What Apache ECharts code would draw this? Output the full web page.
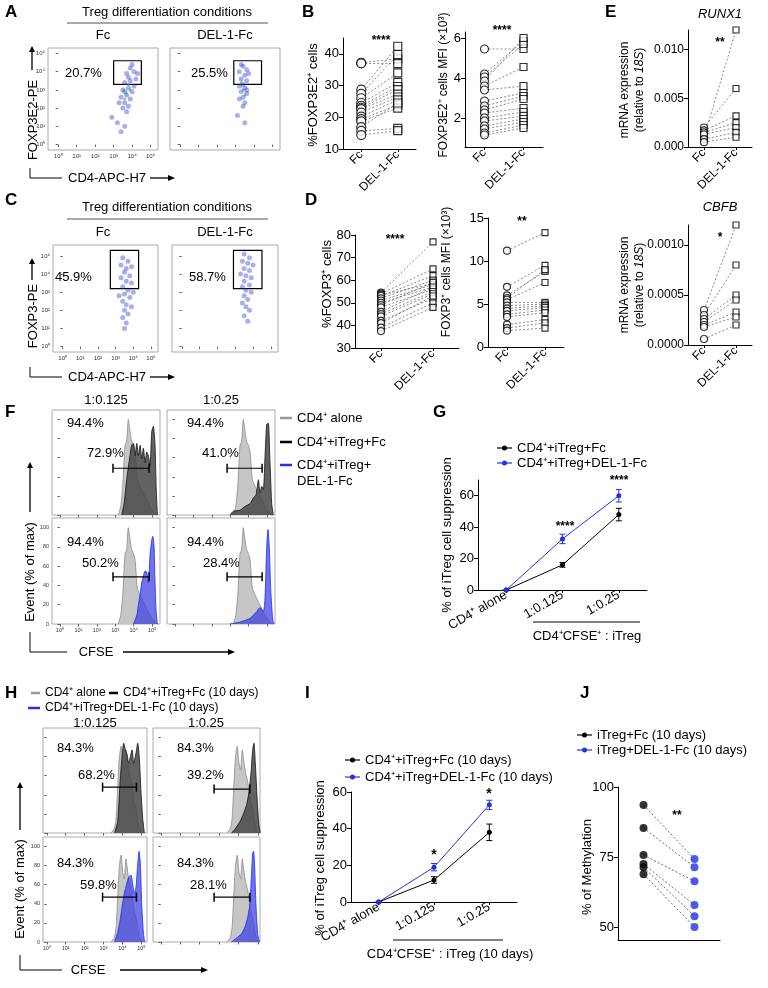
<!DOCTYPE html>
<html>
<head>
<meta charset="utf-8">
<script src="https://cdn.jsdelivr.net/npm/echarts@6/dist/echarts.min.js"></script>
<style>
  html, body { margin: 0; padding: 0; background: #fff; }
  #chart { width: 768px; height: 988px; }
</style>
</head>
<body>
<div id="chart"></div>
<script>
// ---------- data ----------
const FLOW_TICKS = [0, 1, 2, 3, 4, 5];
const flowTickLabels = ['10⁰', '10¹', '10²', '10³', '10⁴', '10⁵'];
const HIST_Y_TICKS = [0, 20, 40, 60, 80, 100];

// A / C dot plots, values in log10 units
const aFcCloud = [[3.9,4.2],[4.1,4.0],[3.7,3.9],[4.2,3.6],[3.9,3.5],[3.6,3.4],[4.1,3.2],[3.8,3.1],[3.5,3.0],[4.0,2.9],
  [3.7,2.7],[3.4,2.6],[3.9,2.5],[3.6,2.3],[3.8,2.1],[3.5,2.0],[3.7,1.8],[3.3,2.3],[4.3,3.9],[4.0,4.4],[3.6,2.9],[3.8,3.7],
  [3.2,1.2],[3.6,1.0],[2.9,1.5],[3.4,0.7]];
const aFcCore = [[3.8,3.3],[3.7,2.8],[3.9,3.0],[3.6,2.5]];
const aDelCloud = [[3.4,4.3],[3.6,4.1],[3.2,4.0],[3.5,3.8],[3.3,3.6],[3.6,3.5],[3.4,3.3],[3.2,3.2],[3.5,3.1],[3.3,2.9],
  [3.6,2.8],[3.4,2.6],[3.2,2.5],[3.5,2.3],[3.3,4.4],[3.7,3.9],[3.4,2.1],[3.6,3.0],[3.1,1.6],[3.5,1.2]];
const aDelCore = [[3.4,3.0],[3.5,2.7],[3.3,3.4]];
const aFcGate = [[3.0, 4.6], [4.5, 3.3]];
const aDelGate = [[2.9, 4.6], [4.4, 3.3]];
const cFcCloud = [[3.4,4.9],[3.7,4.7],[3.3,4.5],[3.6,4.3],[3.9,4.4],[3.5,4.1],[3.8,3.9],[3.3,3.8],[3.6,3.6],[3.9,3.5],
  [3.4,3.3],[3.7,3.1],[3.5,2.9],[3.8,2.7],[3.4,2.5],[3.6,2.3],[3.9,2.2],[3.5,2.0],[3.7,1.8],[3.4,1.6],[3.6,1.3],[3.5,1.0],[4.0,3.0],[3.2,2.8]];
const cDelCloud = [[3.5,5.1],[3.8,4.9],[3.4,4.7],[3.7,4.6],[4.0,4.5],[3.5,4.3],[3.8,4.2],[3.3,4.0],[3.6,3.9],[3.9,3.8],
  [3.5,3.6],[3.8,3.4],[3.4,3.3],[3.6,3.1],[3.9,3.0],[3.5,2.8],[3.7,2.6],[3.4,2.4],[3.6,2.2],[3.8,2.0],[3.5,1.7],[3.7,1.4]];
const cFcGate = [[2.7, 5.3], [4.3, 3.2]];
const cDelGate = [[2.9, 5.3], [4.5, 3.2]];

// B, D, E paired plots
const pairCats = ['Fc', 'DEL-1-Fc'];
const bPctFc  = [37.2, 37.0, 28.7, 27.4, 26.0, 24.5, 23.6, 23.0, 22.6, 21.5, 20.2, 19.4, 18.7, 16.9, 15.7, 14.4];
const bPctDel = [38.4, 36.9, 42.4, 39.8, 34.0, 31.0, 29.7, 28.7, 27.3, 26.4, 25.5, 23.9, 22.9, 24.5, 16.5, 15.8];
const bMfiFc  = [5.45, 4.2, 4.05, 3.85, 3.6, 3.4, 2.85, 2.6, 2.4, 2.25, 2.0, 1.85, 1.6, 1.45, 1.25, 1.15];
const bMfiDel = [5.45, 5.85, 5.7, 6.0, 4.55, 3.6, 3.25, 3.1, 2.95, 2.5, 2.3, 2.1, 1.95, 1.8, 1.65, 1.5];
const dPctFc  = [54.5, 54, 53.5, 53, 52, 51, 50, 49, 48, 46, 45, 44, 42, 41, 39, 37.5];
const dPctDel = [77, 65, 58.5, 62, 60, 58, 57, 59, 56, 57, 55, 54, 52, 53, 50, 48];
const dMfiFc  = [11.2, 7.0, 6.0, 5.7, 5.5, 5.2, 4.8, 4.5, 4.2, 3.8, 3.5, 2.6, 2.2, 1.9];
const dMfiDel = [13.3, 9.5, 8.8, 9.0, 7.5, 5.2, 5.0, 4.8, 4.6, 4.3, 4.0, 3.2, 2.8, 2.2];
const runx1Fc  = [0.0010, 0.0020, 0.0017, 0.0015, 0.0013, 0.0008, 0.0005];
const runx1Del = [0.0120, 0.0060, 0.0032, 0.0025, 0.0020, 0.0015, 0.0010];
const cbfbFc   = [0.00035, 0.00030, 0.00026, 0.00023, 0.00020, 0.00018, 0.00006];
const cbfbDel  = [0.00120, 0.00080, 0.00050, 0.00045, 0.00033, 0.00028, 0.00020];

// F / H histograms: [log10 CFSE, % of max]
const fAlone   = [[3.17,0],[3.3,9],[3.41,30],[3.53,73],[3.62,77],[3.71,100],[3.8,88],[3.89,77],[3.99,73],[4.08,66],[4.2,37],[4.35,30],[4.53,23],[4.71,16],[4.89,9],[5.07,4],[5.25,0]];
const fFc0125  = [[3.35,0],[3.48,12],[3.62,37],[3.8,62],[3.89,73],[3.99,75],[4.08,62],[4.17,75],[4.26,62],[4.35,73],[4.44,59],[4.53,70],[4.62,55],[4.71,66],[4.8,62],[4.89,52],[4.98,87],[5.07,93],[5.16,73],[5.22,30],[5.29,0]];
const fFc025   = [[2.99,0],[3.17,4],[3.53,5],[3.8,9],[4.08,12],[4.26,18],[4.4,21],[4.53,37],[4.62,23],[4.71,30],[4.8,27],[4.89,62],[4.98,95],[5.07,96],[5.16,55],[5.25,12],[5.34,0]];
const fDel0125 = [[3.99,0],[4.17,9],[4.26,20],[4.35,31],[4.44,43],[4.53,50],[4.62,55],[4.71,54],[4.8,43],[4.89,72],[4.98,87],[5.04,91],[5.11,80],[5.16,43],[5.22,13],[5.29,0]];
const fDel025  = [[2.99,0],[3.53,2],[4.08,6],[4.44,13],[4.62,17],[4.8,13],[4.89,28],[4.98,80],[5.05,98],[5.12,80],[5.2,35],[5.31,4],[5.38,0]];
const hAlone   = [[3.4,0],[3.58,5],[3.67,16],[3.75,48],[3.84,80],[3.93,91],[4.02,73],[4.1,66],[4.19,87],[4.28,73],[4.37,62],[4.46,55],[4.54,44],[4.63,32],[4.72,25],[4.81,14],[4.9,5],[5.0,0]];
const hFc0125  = [[3.58,0],[3.75,12],[3.88,55],[3.98,80],[4.07,94],[4.16,87],[4.25,82],[4.33,73],[4.42,80],[4.51,87],[4.6,73],[4.72,84],[4.81,94],[4.89,80],[4.98,44],[5.07,16],[5.16,0]];
const hFc025   = [[3.63,0],[3.81,4],[4.07,12],[4.25,20],[4.42,30],[4.54,44],[4.65,66],[4.72,87],[4.79,94],[4.86,73],[4.95,37],[5.04,9],[5.12,0]];
const hDel0125 = [[3.58,0],[3.75,10],[3.88,23],[3.98,37],[4.1,51],[4.23,61],[4.33,68],[4.46,70],[4.54,61],[4.63,51],[4.72,58],[4.81,82],[4.88,95],[4.95,82],[5.02,40],[5.11,9],[5.18,0]];
const hDel025  = [[3.63,0],[3.89,4],[4.16,9],[4.33,16],[4.47,26],[4.58,40],[4.65,65],[4.72,93],[4.77,95],[4.82,82],[4.89,40],[4.98,9],[5.07,0]];
// divided-cell gates: [from, to, height]
const fBar0125 = [2.88, 4.84, 49];
const fBar025  = [2.83, 4.73, 49];
const hBar0125 = [2.95, 4.74, 48];
const hBar025  = [2.74, 4.58, 46];

// G / I suppression
const suppCats = ['CD4⁺ alone', '1:0.125', '1:0.25'];
const gFc = [0, 16, 48],   gFcErr = [0, 1.5, 4];
const gDel = [0, 32.5, 60], gDelErr = [0, 3, 4];
const iFc = [0, 12, 38],   iFcErr = [0, 1.8, 4.5];
const iDel = [0, 19, 53],  iDelErr = [0, 2, 2.5];

// J methylation
const jFc  = [93.6, 85.4, 75.7, 72.5, 71.4, 68.9];
const jDel = [74.3, 71.4, 66.4, 57.9, 53.9, 50.0];

// ---------- building ----------
const FONT = '"Liberation Sans", Arial, Helvetica, sans-serif';
const BLUE = '#2233dd';
const grids = [], xAxes = [], yAxes = [], series = [], graphic = [];

function addGrid(rect, xAxis, yAxis) {
  const i = grids.length;
  grids.push(Object.assign({ containLabel: false }, rect));
  xAxes.push(Object.assign({ gridIndex: i }, xAxis));
  yAxes.push(Object.assign({ gridIndex: i }, yAxis));
  return i;
}

function text(x, y, str, o) {
  o = o || {};
  graphic.push({
    type: 'text', x: x, y: y, silent: true, rotation: o.rotate || 0,
    style: Object.assign({
      text: str, fill: '#000',
      font: (o.italic ? 'italic ' : '') + (o.weight || 'normal') + ' ' + (o.size || 13) + 'px ' + FONT,
      align: o.align || 'center', textAlign: o.align || 'center',
      verticalAlign: 'middle', textVerticalAlign: 'middle'
    }, o.style || {})
  });
}
function vtext(x, y, str, o) { text(x, y, str, Object.assign({ rotate: Math.PI / 2 }, o || {})); }
function line(x1, y1, x2, y2, color, w) {
  graphic.push({ type: 'line', silent: true, shape: { x1, y1, x2, y2 }, style: { stroke: color || '#000', lineWidth: w || 1 } });
}
function arrowUp(x, yTop, yBot) {
  line(x, yTop + 4, x, yBot, '#000', 1.3);
  graphic.push({ type: 'polygon', silent: true, shape: { points: [[x, yTop], [x - 3, yTop + 6], [x + 3, yTop + 6]] }, style: { fill: '#000' } });
}
function arrowRight(x1, x2, y) {
  line(x1, y, x2 - 4, y, '#000', 1.3);
  graphic.push({ type: 'polygon', silent: true, shape: { points: [[x2, y], [x2 - 7, y - 3], [x2 - 7, y + 3]] }, style: { fill: '#000' } });
}
function letter(x, y, s) { text(x, y, s, { align: 'left', size: 17, weight: 'bold' }); }

function valueAxis(min, max, ticks, fmt, size) {
  return {
    type: 'value', min: min, max: max, splitLine: { show: false },
    axisLine: { show: true, lineStyle: { color: '#000', width: 1 } },
    axisTick: { show: true, length: 4, customValues: ticks, lineStyle: { color: '#000' } },
    axisLabel: { customValues: ticks, formatter: fmt || (v => String(v)), fontSize: size || 13, color: '#000', fontFamily: FONT, margin: 4 }
  };
}
function catAxis(cats, rotate, size) {
  return {
    type: 'category', data: cats, boundaryGap: true,
    axisLine: { lineStyle: { color: '#000' } },
    axisTick: { show: true, alignWithLabel: true, length: 3, lineStyle: { color: '#000' } },
    axisLabel: { rotate: rotate, interval: 0, fontSize: size || 12, color: '#000', fontFamily: FONT, margin: 4 }
  };
}

function flowBox(rect, xr, yr, cloud, core, gate, labels) {
  const lab = { show: labels, customValues: FLOW_TICKS, formatter: v => flowTickLabels[v], fontSize: 6, color: '#333', margin: 3 };
  const tick = { show: true, length: 2.5, customValues: FLOW_TICKS, lineStyle: { color: '#666' } };
  const gi = addGrid(Object.assign({ show: true, borderColor: '#aaa', borderWidth: 1 }, rect),
    { type: 'value', min: xr[0], max: xr[1], splitLine: { show: false }, axisLine: { show: false }, axisTick: tick, axisLabel: lab },
    { type: 'value', min: yr[0], max: yr[1], splitLine: { show: false }, axisLine: { show: false }, axisTick: tick, axisLabel: lab });
  series.push({
    type: 'scatter', xAxisIndex: gi, yAxisIndex: gi, data: cloud, symbolSize: 5, silent: true,
    itemStyle: { color: 'rgba(40,55,210,0.5)' },
    markArea: { silent: true, itemStyle: { color: 'rgba(0,0,0,0)', borderColor: '#000', borderWidth: 1.2 },
      data: [[{ coord: gate[0] }, { coord: gate[1] }]] }
  });
  if (core.length) {
    series.push({ type: 'scatter', xAxisIndex: gi, yAxisIndex: gi, data: core, symbolSize: 3, silent: true,
      itemStyle: { color: 'rgba(70,170,70,0.75)' } });
  }
}

function pairedPlot(rect, yAxis, fcVals, delVals, size) {
  const gi = addGrid(rect, catAxis(pairCats, 45, 12), yAxis);
  fcVals.forEach((v, k) => series.push({
    type: 'line', xAxisIndex: gi, yAxisIndex: gi, data: [v, delVals[k]], symbol: 'none', silent: true, z: 1,
    lineStyle: { color: '#555', width: 0.7, type: [2, 2] }
  }));
  series.push({ type: 'scatter', xAxisIndex: gi, yAxisIndex: gi, data: fcVals.map(v => [0, v]), symbol: 'circle',
    symbolSize: size, silent: true, z: 3, itemStyle: { color: '#fff', borderColor: '#000', borderWidth: 1.2 } });
  series.push({ type: 'scatter', xAxisIndex: gi, yAxisIndex: gi, data: delVals.map(v => [1, v]), symbol: 'rect',
    symbolSize: size - 1, silent: true, z: 3, itemStyle: { color: '#fff', borderColor: '#000', borderWidth: 1.2 } });
}

const GRAY = { stroke: '#8a8a8a', fill: '#c6c6c6', z: 2 };
const DARK = { stroke: '#111', fill: 'rgba(70,70,70,0.85)', z: 3 };
const BLUEH = { stroke: '#1030ff', fill: 'rgba(60,60,225,0.72)', z: 3 };

function histBox(rect, xr, labels, curves, bar) {
  const tl = (ticks, fmt) => ({ show: labels, customValues: ticks, formatter: fmt, fontSize: 5.5, color: '#333', margin: 3 });
  const tk = ticks => ({ show: true, length: 2.5, customValues: ticks, lineStyle: { color: '#666' } });
  const gi = addGrid(Object.assign({ show: true, borderColor: '#aaa', borderWidth: 1 }, rect),
    { type: 'value', min: xr[0], max: xr[1], splitLine: { show: false }, axisLine: { show: false },
      axisTick: tk(FLOW_TICKS), axisLabel: tl(FLOW_TICKS, v => flowTickLabels[v]) },
    { type: 'value', min: 0, max: 110, splitLine: { show: false }, axisLine: { show: false },
      axisTick: tk(HIST_Y_TICKS), axisLabel: tl(HIST_Y_TICKS, v => String(v)) });
  curves.forEach(c => series.push({
    type: 'line', xAxisIndex: gi, yAxisIndex: gi, data: c.data, symbol: 'none', smooth: 0.2, silent: true, z: c.style.z,
    lineStyle: { color: c.style.stroke, width: 0.8 }, areaStyle: { color: c.style.fill, opacity: 1 }
  }));
  series.push({
    type: 'line', xAxisIndex: gi, yAxisIndex: gi, data: [[bar[0], bar[2]], [bar[1], bar[2]]], silent: true, z: 10,
    symbol: 'rect', symbolSize: [1.5, 9], lineStyle: { color: '#000', width: 1.2 }, itemStyle: { color: '#000' }
  });
}

function errorBars(gi, vals, errs, color) {
  series.push({
    type: 'custom', xAxisIndex: gi, yAxisIndex: gi, silent: true, z: 4,
    data: vals.map((v, k) => [k, v - errs[k], v + errs[k]]),
    renderItem: (params, api) => {
      const lo = api.coord([api.value(0), api.value(1)]);
      const hi = api.coord([api.value(0), api.value(2)]);
      const st = { stroke: color, lineWidth: 1 };
      return { type: 'group', children: [
        { type: 'line', shape: { x1: lo[0], y1: lo[1], x2: hi[0], y2: hi[1] }, style: st },
        { type: 'line', shape: { x1: hi[0] - 3, y1: hi[1], x2: hi[0] + 3, y2: hi[1] }, style: st },
        { type: 'line', shape: { x1: lo[0] - 3, y1: lo[1], x2: lo[0] + 3, y2: lo[1] }, style: st }
      ] };
    }
  });
}

function suppressionPlot(rect, yMax, yTicks, fc, fcErr, del, delErr) {
  const gi = addGrid(rect, catAxis(suppCats, 30, 13), valueAxis(0, yMax, yTicks));
  [[fc, fcErr, '#000'], [del, delErr, BLUE]].forEach(([vals, errs, col]) => {
    series.push({ type: 'line', xAxisIndex: gi, yAxisIndex: gi, data: vals, symbol: 'circle', symbolSize: 5, silent: true, z: 5,
      lineStyle: { color: col, width: 1 }, itemStyle: { color: col } });
    errorBars(gi, vals, errs, col);
  });
}

function legendDot(x, y, col, label, size) {
  line(x, y, x + 15, y, col, 1.2);
  graphic.push({ type: 'circle', silent: true, shape: { cx: x + 7.5, cy: y, r: 2.5 }, style: { fill: col } });
  text(x + 20, y, label, { align: 'left', size: size || 13 });
}
function legendBar(x1, x2, y, col, label, size) {
  line(x1, y, x2, y, col, 2.5);
  text(x2 + 5, y, label, { align: 'left', size: size || 13 });
}

// ---------- A ----------
letter(5, 12, 'A');
text(167, 12, 'Treg differentiation conditions');
line(67, 23, 268, 23, '#555', 1.2);
text(103, 35, 'Fc'); text(225, 35, 'DEL-1-Fc');
flowBox({ left: 48, top: 48, width: 110, height: 102 }, [-0.55, 5.4], [-0.3, 5.3], aFcCloud, aFcCore, aFcGate, true);
flowBox({ left: 170, top: 48, width: 110, height: 102 }, [-0.55, 5.4], [-0.3, 5.3], aDelCloud, aDelCore, aDelGate, false);
text(65, 73, '20.7%', { align: 'left' }); text(191, 73, '25.5%', { align: 'left' });
arrowUp(32, 46, 70); vtext(33, 120, 'FOXP3E2-PE');
line(30, 168, 30, 178); line(30, 178, 62, 178);
text(107, 178, 'CD4-APC-H7'); arrowRight(150, 175, 178);

// ---------- C ----------
letter(5, 200, 'C');
text(167, 207, 'Treg differentiation conditions');
line(67, 219, 268, 219, '#555', 1.2);
text(103, 232, 'Fc'); text(225, 232, 'DEL-1-Fc');
flowBox({ left: 53, top: 245, width: 105, height: 107 }, [-0.55, 5.4], [-0.3, 5.6], cFcCloud, [], cFcGate, true);
flowBox({ left: 172, top: 245, width: 106, height: 107 }, [-0.55, 5.4], [-0.3, 5.6], cDelCloud, [], cDelGate, false);
text(55, 277, '45.9%', { align: 'left' }); text(189, 277, '58.7%', { align: 'left' });
arrowUp(32, 258, 280); vtext(33, 316, 'FOXP3-PE');
line(30, 367, 30, 377); line(30, 377, 62, 377);
text(107, 377, 'CD4-APC-H7'); arrowRight(150, 175, 377);

// ---------- B ----------
letter(302, 12, 'B');
pairedPlot({ left: 343, top: 38, width: 73, height: 111 }, valueAxis(10, 45, [10, 20, 30, 40]), bPctFc, bPctDel, 9);
vtext(313, 95, '%FOXP3E2⁺ cells');
text(381, 41, '****', { size: 12, weight: 'bold' });
pairedPlot({ left: 465, top: 32, width: 78, height: 115 }, valueAxis(0.55, 6.3, [2, 4, 6]), bMfiFc, bMfiDel, 8);
vtext(444, 85, 'FOXP3E2⁺ cells MFI (×10³)', { size: 12 });
text(502, 31, '****', { size: 12, weight: 'bold' });

// ---------- D ----------
letter(305, 200, 'D');
pairedPlot({ left: 355, top: 235, width: 104, height: 113 }, valueAxis(30, 80, [30, 40, 50, 60, 70, 80]), dPctFc, dPctDel, 7);
vtext(327, 284, '%FOXP3⁺ cells');
text(395, 240, '****', { size: 12, weight: 'bold' });
pairedPlot({ left: 488, top: 218, width: 76, height: 129 }, valueAxis(0, 15, [0, 5, 10, 15]), dMfiFc, dMfiDel, 7);
vtext(447, 272, 'FOXP3⁺ cells MFI (×10³)', { size: 12 });
text(522, 222, '**', { size: 12, weight: 'bold' });

// ---------- E ----------
letter(605, 12, 'E');
text(720, 14, 'RUNX1', { italic: true });
pairedPlot({ left: 688, top: 30, width: 64, height: 117 }, valueAxis(0, 0.012, [0, 0.005, 0.010], v => v.toFixed(3), 12), runx1Fc, runx1Del, 7);
text(720, 43, '**', { size: 12, weight: 'bold' });
const relRich = { n: { fontSize: 12, fontFamily: FONT }, i: { fontSize: 12, fontFamily: FONT, fontStyle: 'italic' } };
vtext(632, 90, '{n|mRNA expression}\n{n|(relative to }{i|18S}{n|)}', { style: { rich: relRich, lineHeight: 15 } });
text(720, 207, 'CBFB', { italic: true });
pairedPlot({ left: 688, top: 225, width: 64, height: 120 }, valueAxis(0, 0.0012, [0, 0.0005, 0.0010], v => v.toFixed(4), 12), cbfbFc, cbfbDel, 7);
text(720, 238, '*', { size: 12, weight: 'bold' });
vtext(632, 285, '{n|mRNA expression}\n{n|(relative to }{i|18S}{n|)}', { style: { rich: relRich, lineHeight: 15 } });

// ---------- F ----------
letter(5, 412, 'F');
text(106, 400, '1:0.125'); text(221, 400, '1:0.25');
const fxr = [-0.43, 5.43];
histBox({ left: 52, top: 410, width: 108, height: 105 }, fxr, false, [{ data: fAlone, style: GRAY }, { data: fFc0125, style: DARK }], fBar0125);
histBox({ left: 167, top: 410, width: 108, height: 105 }, fxr, false, [{ data: fAlone, style: GRAY }, { data: fFc025, style: DARK }], fBar025);
histBox({ left: 52, top: 518, width: 108, height: 106 }, fxr, true, [{ data: fAlone, style: GRAY }, { data: fDel0125, style: BLUEH }], fBar0125);
histBox({ left: 167, top: 518, width: 108, height: 106 }, fxr, false, [{ data: fAlone, style: GRAY }, { data: fDel025, style: BLUEH }], fBar025);
text(67, 423, '94.4%', { align: 'left' }); text(87, 453, '72.9%', { align: 'left' });
text(187, 423, '94.4%', { align: 'left' }); text(202, 453, '41.0%', { align: 'left' });
text(67, 542, '94.4%', { align: 'left' }); text(82, 563, '50.2%', { align: 'left' });
text(187, 542, '94.4%', { align: 'left' }); text(203, 563, '28.4%', { align: 'left' });
arrowUp(30, 462, 512); vtext(30, 572, 'Event (% of max)');
line(30, 632, 30, 652); line(30, 652, 67, 652);
text(96, 652, 'CFSE'); arrowRight(123, 235, 652);
legendBar(280, 292, 418, '#999', 'CD4⁺ alone');
legendBar(280, 292, 442, '#000', 'CD4⁺+iTreg+Fc');
legendBar(280, 292, 465, BLUE, 'CD4⁺+iTreg+');
text(297, 481, 'DEL-1-Fc', { align: 'left' });

// ---------- G ----------
letter(433, 412, 'G');
legendDot(497, 448, '#000', 'CD4⁺+iTreg+Fc');
legendDot(497, 463, BLUE, 'CD4⁺+iTreg+DEL-1-Fc');
suppressionPlot({ left: 478, top: 480, width: 169, height: 110 }, 70, [0, 20, 40, 60], gFc, gFcErr, gDel, gDelErr);
vtext(447, 535, '% of iTreg cell suppression');
text(565, 527, '****', { size: 12, weight: 'bold' });
text(619, 481, '****', { size: 12, weight: 'bold' });
line(533, 622, 640, 622);
text(587, 636, 'CD4⁺CFSE⁺ : iTreg');

// ---------- H ----------
letter(5, 693, 'H');
legendBar(31, 40, 693, '#999', 'CD4⁺ alone', 12);
legendBar(109, 118, 693, '#000', 'CD4⁺+iTreg+Fc (10 days)', 12);
legendBar(28, 40, 708, BLUE, 'CD4⁺+iTreg+DEL-1-Fc (10 days)', 12);
text(95, 723, '1:0.125'); text(206, 723, '1:0.25');
histBox({ left: 43, top: 728, width: 104, height: 105 }, [-0.2, 5.3], false, [{ data: hAlone, style: GRAY }, { data: hFc0125, style: DARK }], hBar0125);
histBox({ left: 153, top: 728, width: 107, height: 105 }, [-0.4, 5.1], false, [{ data: hAlone, style: GRAY }, { data: hFc025, style: DARK }], hBar025);
histBox({ left: 43, top: 837, width: 104, height: 105 }, [-0.2, 5.3], true, [{ data: hAlone, style: GRAY }, { data: hDel0125, style: BLUEH }], [hBar0125[0], hBar0125[1], 47]);
histBox({ left: 153, top: 837, width: 107, height: 105 }, [-0.4, 5.1], false, [{ data: hAlone, style: GRAY }, { data: hDel025, style: BLUEH }], [hBar025[0], hBar025[1], 47]);
text(57, 748, '84.3%', { align: 'left' }); text(78, 775, '68.2%', { align: 'left' });
text(177, 748, '84.3%', { align: 'left' }); text(187, 775, '39.2%', { align: 'left' });
text(57, 863, '84.3%', { align: 'left' }); text(80, 885, '59.8%', { align: 'left' });
text(177, 863, '84.3%', { align: 'left' }); text(190, 885, '28.1%', { align: 'left' });
arrowUp(20, 782, 830); vtext(20, 889, 'Event (% of max)');
line(20, 955, 20, 970); line(20, 970, 62, 970);
text(88, 970, 'CFSE'); arrowRight(120, 208, 970);

// ---------- I ----------
letter(305, 693, 'I');
legendDot(345, 760, '#000', 'CD4⁺+iTreg+Fc (10 days)');
legendDot(345, 777, BLUE, 'CD4⁺+iTreg+DEL-1-Fc (10 days)');
suppressionPlot({ left: 351, top: 792, width: 166, height: 110 }, 60, [0, 20, 40, 60], iFc, iFcErr, iDel, iDelErr);
vtext(320, 858, '% of iTreg cell suppression');
text(434, 855, '*', { size: 14, weight: 'bold' });
text(489, 794, '*', { size: 14, weight: 'bold' });
line(393, 940, 503, 940);
text(450, 954, 'CD4⁺CFSE⁺ : iTreg (10 days)');

// ---------- J ----------
letter(580, 693, 'J');
legendDot(577, 735, '#000', 'iTreg+Fc (10 days)');
legendDot(577, 750, BLUE, 'iTreg+DEL-1-Fc (10 days)');
(function () {
  const xa = catAxis(pairCats, 0, 12);
  xa.axisTick = { show: false };
  xa.axisLabel = { show: false };
  const gi = addGrid({ left: 618, top: 787, width: 102, height: 153 }, xa, valueAxis(45.4, 100, [50, 75, 100]));
  jFc.forEach((v, k) => series.push({ type: 'line', xAxisIndex: gi, yAxisIndex: gi, data: [v, jDel[k]], symbol: 'none', silent: true, z: 1,
    lineStyle: { color: '#444', width: 0.8, type: [2, 2] } }));
  series.push({ type: 'scatter', xAxisIndex: gi, yAxisIndex: gi, data: jFc.map(v => [0, v]), symbolSize: 8, silent: true, z: 3, itemStyle: { color: '#000' } });
  series.push({ type: 'scatter', xAxisIndex: gi, yAxisIndex: gi, data: jDel.map(v => [1, v]), symbolSize: 8, silent: true, z: 3, itemStyle: { color: BLUE } });
})();
vtext(587, 867, '% of Methylation');
text(677, 816, '**', { size: 12, weight: 'bold' });

const chart = echarts.init(document.getElementById('chart'), null, { renderer: 'canvas' });
chart.setOption({
  animation: false,
  backgroundColor: '#fff',
  textStyle: { fontFamily: FONT },
  grid: grids,
  xAxis: xAxes,
  yAxis: yAxes,
  series: series,
  graphic: { elements: graphic }
});
</script>
</body>
</html>
